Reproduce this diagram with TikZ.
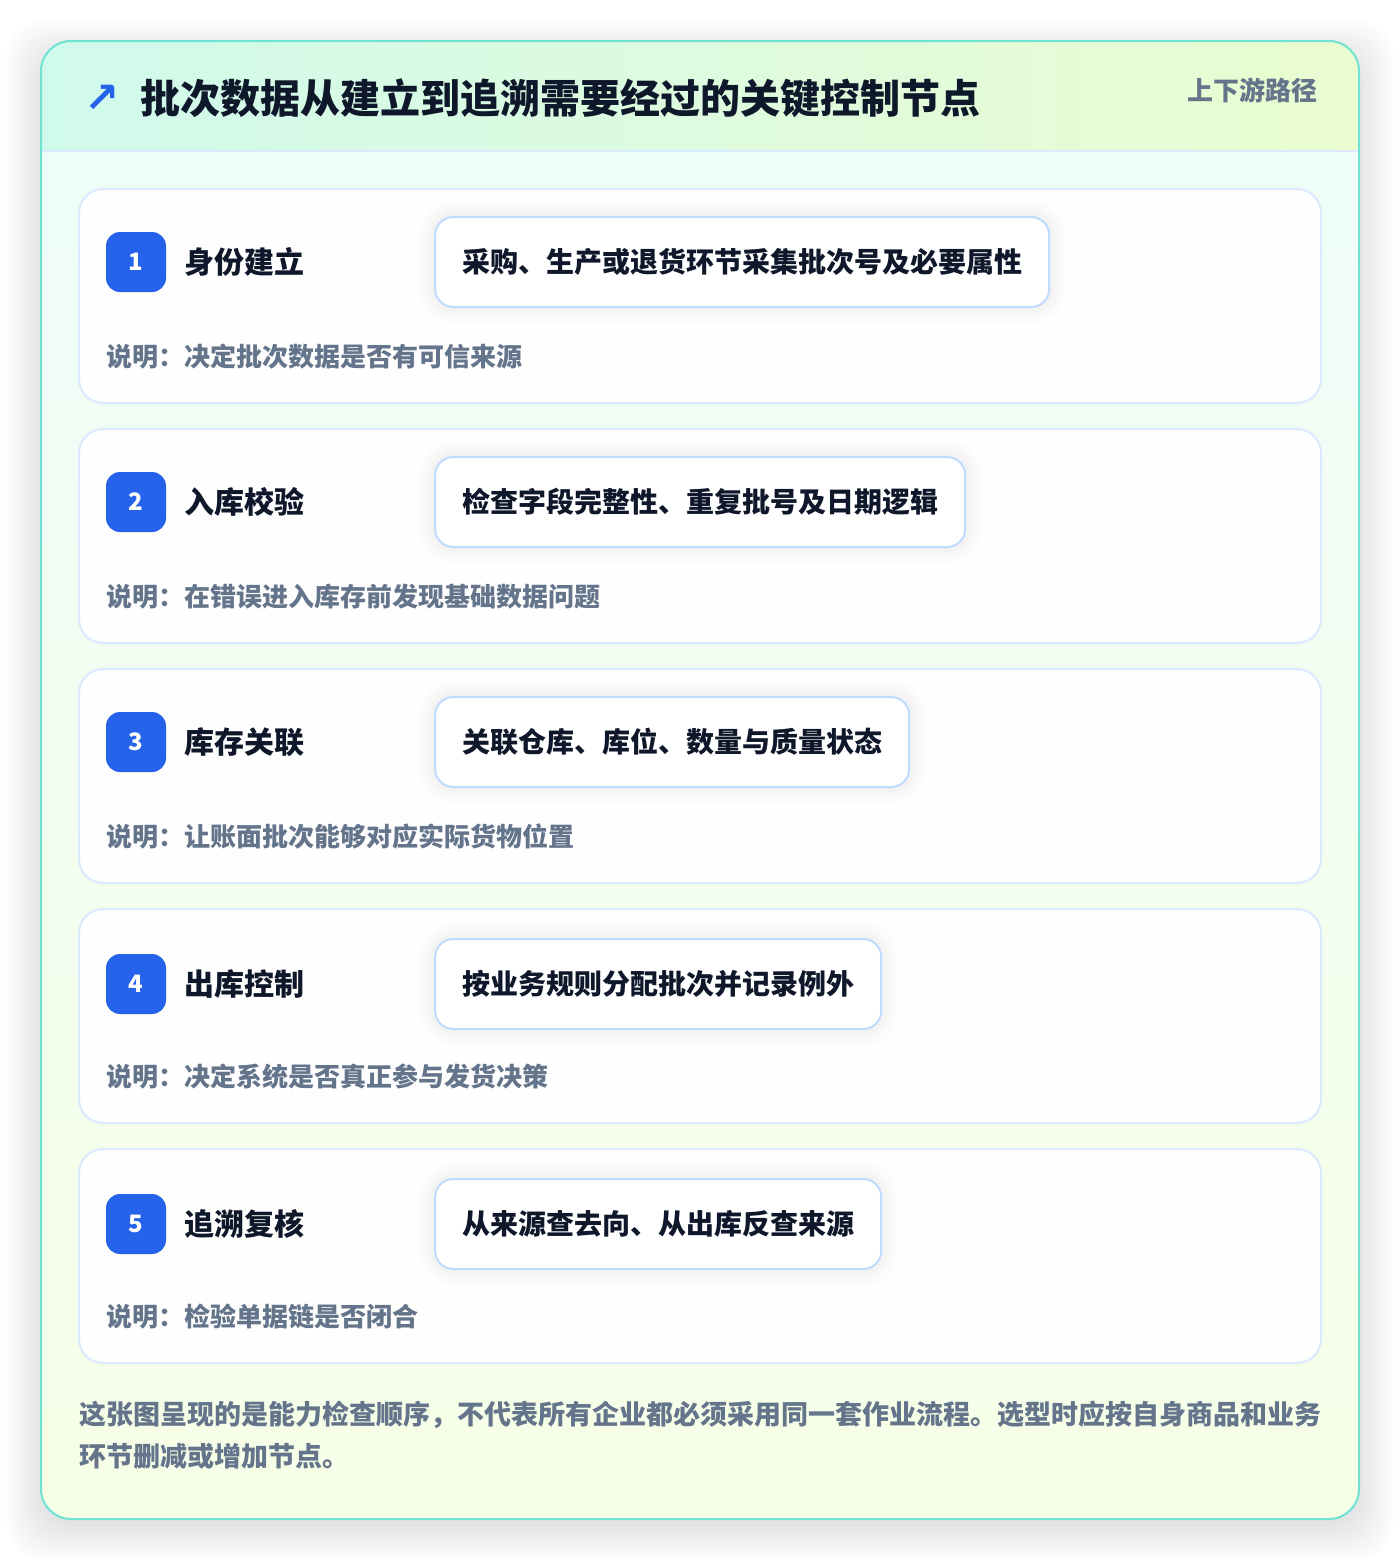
\documentclass[tikz,border=0pt]{standalone}
\usepackage{fontspec}
\setmainfont{Noto Sans CJK SC}
\newfontfamily\symfont{DejaVu Sans}
\usetikzlibrary{positioning}
\definecolor{frameLine}{HTML}{6EE3D2}
\definecolor{hdLeft}{HTML}{D0FAEC}
\definecolor{hdRight}{HTML}{EAFCD0}
\definecolor{bodyTop}{HTML}{EFFDF9}
\definecolor{bodyBot}{HTML}{F6FEE6}
\definecolor{cardLine}{HTML}{DBEAFE}
\definecolor{actLine}{HTML}{BFDBFE}
\definecolor{numBlue}{HTML}{2563EB}
\definecolor{ink}{HTML}{0F172A}
\definecolor{muted}{HTML}{64748B}
\tikzstyle{myCard} = [rectangle, draw=cardLine, line width=1pt, fill=white, fill opacity=.95, rounded corners=12pt, minimum width=621pt, minimum height=107pt]
\tikzstyle{myNum} = [rectangle, fill=numBlue, text=white, rounded corners=7pt, minimum size=30pt, inner sep=0pt, font=\fontsize{12pt}{12pt}\selectfont\bfseries]
\tikzstyle{myTitle} = [anchor=west, inner sep=0pt, text=ink, font=\fontsize{15pt}{15pt}\selectfont\bfseries]
\tikzstyle{myAct} = [rectangle, draw=actLine, line width=1pt, fill=white, rounded corners=9pt, minimum height=45pt, inner xsep=13.5pt, text=ink, font=\fontsize{14pt}{14pt}\selectfont\bfseries,
	preaction={draw=black, draw opacity=.012, line width=16pt},
	preaction={draw=black, draw opacity=.014, line width=10pt},
	preaction={draw=black, draw opacity=.016, line width=5pt}]
\tikzstyle{myNote} = [anchor=west, inner sep=0pt, text=muted, font=\fontsize{13pt}{13pt}\selectfont\bfseries]

\begin{document}
\begin{tikzpicture}[x=0.5pt,y=-0.5pt]
		\useasboundingbox[fill=white] (0,0) rectangle (1400,1560);
		% soft shadow under the frame
		\foreach \s in {2,6,...,34}
			\fill[black, opacity=.01, rounded corners=18pt] (41-\s,55-\s) rectangle (1359+\s,1525+\s);
		\begin{scope}
			\clip[rounded corners=15pt] (41,41) rectangle (1359,1519);
			\shade[left color=hdLeft, right color=hdRight] (41,41) rectangle (1359,151);
			\shade[top color=bodyTop, bottom color=bodyBot] (41,151) rectangle (1359,1519);
		\end{scope}
		\draw[cardLine, line width=1pt] (42,151) -- (1358,151);
		\draw[frameLine, line width=1pt, rounded corners=15pt] (41,41) rectangle (1359,1519);
		
		\node [anchor=center, text=numBlue, font=\symfont\bfseries\fontsize{21pt}{21pt}\selectfont] (icon) at (102,99) {↗};
		\node [anchor=west, inner sep=0pt, text=ink, font=\fontsize{20pt}{20pt}\selectfont\bfseries] (head) at (140,98) {批次数据从建立到追溯需要经过的关键控制节点};
		\node [anchor=east, inner sep=0pt, text=muted, font=\fontsize{13pt}{13pt}\selectfont\bfseries] (tag) at (1318,90) {上下游路径};
		
		% step 1
		\node [myCard] (card1) at (700,296) {};
		\node [myNum] (num1) at (136,262) {1};
		\node [myTitle, right=9pt of num1] (title1) {身份建立};
		\node [myAct, anchor=west, right=64.5pt of title1] (act1) {采购、生产或退货环节采集批次号及必要属性};
		\node [myNote] (note1) at (106,357) {说明：决定批次数据是否有可信来源};
		% step 2
		\node [myCard] (card2) at (700,536) {};
		\node [myNum] (num2) at (136,502) {2};
		\node [myTitle, right=9pt of num2] (title2) {入库校验};
		\node [myAct, anchor=west, right=64.5pt of title2] (act2) {检查字段完整性、重复批号及日期逻辑};
		\node [myNote] (note2) at (106,597) {说明：在错误进入库存前发现基础数据问题};
		% step 3
		\node [myCard] (card3) at (700,776) {};
		\node [myNum] (num3) at (136,742) {3};
		\node [myTitle, right=9pt of num3] (title3) {库存关联};
		\node [myAct, anchor=west, right=64.5pt of title3] (act3) {关联仓库、库位、数量与质量状态};
		\node [myNote] (note3) at (106,837) {说明：让账面批次能够对应实际货物位置};
		% step 4
		\node [myCard] (card4) at (700,1016) {};
		\node [myNum] (num4) at (136,984) {4};
		\node [myTitle, right=9pt of num4] (title4) {出库控制};
		\node [myAct, anchor=west, right=64.5pt of title4] (act4) {按业务规则分配批次并记录例外};
		\node [myNote] (note4) at (106,1077) {说明：决定系统是否真正参与发货决策};
		% step 5
		\node [myCard] (card5) at (700,1256) {};
		\node [myNum] (num5) at (136,1224) {5};
		\node [myTitle, right=9pt of num5] (title5) {追溯复核};
		\node [myAct, anchor=west, right=64.5pt of title5] (act5) {从来源查去向、从出库反查来源};
		\node [myNote] (note5) at (106,1317) {说明：检验单据链是否闭合};
		
		\node [anchor=north west, inner sep=0pt, text=muted, align=left, font=\fontsize{13.5pt}{21pt}\selectfont\bfseries] (foot) at (79,1401) {这张图呈现的是能力检查顺序，不代表所有企业都必须采用同一套作业流程。选型时应按自身商品和业务\\环节删减或增加节点。};
		
		\end{tikzpicture}
\end{document}
